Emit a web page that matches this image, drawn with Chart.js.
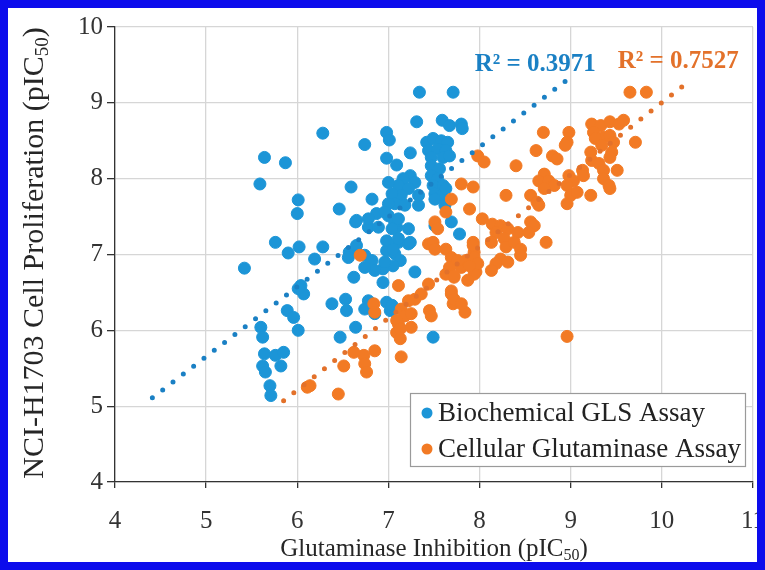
<!DOCTYPE html>
<html><head><meta charset="utf-8">
<script src="https://cdn.jsdelivr.net/npm/chart.js@4.4.0/dist/chart.umd.min.js"></script>
<style>html,body{margin:0;padding:0;background:#fff}#wrap{width:765px;height:570px;position:relative}</style>
</head><body><div id="wrap"><canvas id="c" width="765" height="570"></canvas></div>
<script>
// ---- data ----
const seriesNames = ['Biochemical GLS Assay', 'Cellular Glutaminase Assay'];
const xTicks = [4, 5, 6, 7, 8, 9, 10, 11];
const yTicks = [4, 5, 6, 7, 8, 9, 10];
const r2Labels = ['R² = 0.3971', 'R² = 0.7527'];

const bioX = [7.34,7.71,7.31,7.59,7.67,7.80,7.81,6.28,6.74,6.98,7.01,7.24,5.64,5.87,5.59,6.98,7.09,6.01,6.00,6.59,6.46,6.82,6.64,5.76,5.90,6.02,6.28,6.19,5.42,6.57,6.65,
7.42,7.49,7.58,7.65,7.44,7.54,7.63,7.47,7.60,7.67,
7.24,7.16,7.29,7.11,7.00,7.22,7.33,7.14,7.04,7.07,7.18,7.33,7.00,
7.47,7.56,7.47,7.54,7.49,7.60,7.51,7.58,7.63,
7.69,6.78,6.89,7.09,
6.56,6.74,6.82,6.98,7.07,7.13,7.05,6.94,6.85,6.74,6.62,6.94,7.29,7.22,7.11,6.98,
6.38,6.53,6.54,6.78,6.74,6.85,6.98,7.02,6.64,6.47,7.49,
7.78,7.51,6.04,6.07,6.01,5.89,5.96,6.01,5.60,5.62,5.64,5.76,5.85,5.62,5.82,5.65,5.70,5.71,
7.00,6.87,6.78,6.65,7.07,7.51,7.62,6.96,7.11,7.22,7.04,7.11,7.24,7.05,6.96,7.04];
const bioY = [9.14,9.14,8.75,8.77,8.70,8.72,8.66,8.60,8.45,8.61,8.51,8.34,8.28,8.21,7.93,8.27,8.18,7.72,7.54,7.89,7.60,7.73,7.43,7.16,7.02,7.10,7.10,6.94,6.82,7.03,7.12,
8.48,8.53,8.50,8.48,8.37,8.39,8.37,8.28,8.28,8.30,
8.04,8.00,7.95,7.91,7.95,7.87,7.78,7.78,7.80,7.67,7.65,7.65,7.67,
8.17,8.13,8.04,8.00,7.91,7.91,7.80,7.78,7.87,
7.43,7.36,7.36,7.36,
6.96,6.99,6.92,7.05,7.01,6.92,6.85,6.81,6.79,6.83,6.70,6.63,6.77,7.14,7.16,7.18,
6.35,6.41,6.26,6.39,6.28,6.22,6.37,6.26,6.04,5.91,5.91,
7.27,7.38,6.59,6.48,6.55,6.26,6.17,6.00,6.04,5.91,5.69,5.67,5.71,5.53,5.53,5.45,5.27,5.14,
7.51,7.54,7.47,7.45,7.43,7.73,7.65,7.56,7.47,7.34,7.34,7.21,7.16,7.07,6.90,6.33];

const cellX = [8.70,8.98,8.96,8.94,9.23,9.33,9.43,9.53,9.58,9.25,9.36,9.27,9.43,9.47,9.34,9.71,8.62,8.80,8.85,9.22,9.23,9.45,9.43,8.40,9.31,9.36,9.51,8.71,8.65,8.76,8.82,8.71,8.98,9.03,9.13,9.14,8.96,9.36,9.42,9.43,
7.93,8.29,8.56,8.63,8.65,9.00,8.96,9.07,9.22,7.89,8.03,8.14,8.23,8.31,8.42,8.18,8.56,8.60,8.54,7.93,7.94,8.13,8.27,8.29,8.38,8.45,8.45,8.73,8.23,8.31,8.18,7.93,7.96,8.13,
6.69,7.44,7.49,7.51,7.63,7.69,7.67,7.63,7.72,7.80,7.85,7.94,7.98,7.94,7.87,7.76,7.93,
7.11,7.36,7.29,7.22,7.14,7.18,7.25,7.11,7.09,7.13,7.45,7.47,7.69,7.71,7.84,6.84,6.85,7.14,6.85,6.73,6.62,6.51,6.74,7.09,7.13,7.25,6.76,6.45,6.14,6.11,7.69,7.72,7.80,7.44,
9.65,9.83,7.98,8.05,7.80,7.69,7.63,7.51,7.54,8.96,7.89,7.72];
const cellY = [8.61,8.61,8.48,8.44,8.72,8.70,8.75,8.72,8.77,8.61,8.55,8.53,8.57,8.48,8.44,8.48,8.37,8.30,8.26,8.35,8.24,8.35,8.28,8.17,8.20,8.11,8.11,8.06,7.97,7.97,7.91,7.87,8.04,7.97,8.11,8.04,7.91,8.00,7.91,7.87,
7.89,7.78,7.78,7.69,7.65,7.78,7.67,7.82,7.78,7.60,7.47,7.40,7.38,7.34,7.29,7.29,7.43,7.38,7.29,7.16,7.03,7.16,7.21,7.10,7.16,7.07,6.99,7.16,6.94,6.90,6.88,6.90,6.77,6.79,
6.99,7.14,7.16,7.07,7.07,6.96,6.83,6.74,6.70,6.83,6.92,6.96,6.88,6.74,6.66,6.92,7.12,
6.59,6.48,6.41,6.39,6.28,6.19,6.22,6.08,5.97,5.89,6.26,6.19,6.48,6.35,6.24,6.35,6.24,5.65,5.73,5.67,5.71,5.53,5.56,6.13,6.02,6.04,5.45,5.16,5.27,5.25,6.52,6.41,6.35,6.61,
9.14,9.14,8.30,8.22,7.93,7.73,7.56,7.43,7.34,5.92,6.85,6.72];

// linear trend line end points
const bioTrendX = [4.41, 8.99];
const bioTrendY = [5.11, 9.33];
const cellTrendX = [5.85, 10.27];
const cellTrendY = [5.07, 9.26];

// ---- styling ----
const FONT = "'Liberation Serif', 'Times New Roman', serif";
const BLUE = '#1c95d7', ORANGE = '#f27a24';
const BLUE_T = '#1a80c4', ORANGE_T = '#e3712a';
const toPts = (xs, ys) => xs.map((x, i) => ({x: x, y: ys[i]}));

function drawRich(ctx, parts, size, cx, cy) {
  const sub = Math.round(size * 0.62);
  let total = 0;
  parts.forEach(p => { ctx.font = (p.sub ? sub : size) + 'px ' + FONT; p.w = ctx.measureText(p.t).width; total += p.w; });
  let x = cx - total / 2;
  ctx.textAlign = 'left'; ctx.textBaseline = 'middle';
  parts.forEach(p => {
    ctx.font = (p.sub ? sub : size) + 'px ' + FONT;
    ctx.fillText(p.t, x, cy + (p.sub ? size * 0.28 : 0));
    x += p.w;
  });
}

const decor = {
  id: 'decor',
  beforeDraw(chart) {
    const c = chart.ctx; c.save(); c.fillStyle = '#fff'; c.fillRect(0, 0, chart.width, chart.height); c.restore();
  },
  afterDraw(chart) {
    const c = chart.ctx, xs = chart.scales.x, ys = chart.scales.y, a = chart.chartArea;
    c.save();
    // axis titles
    c.fillStyle = '#262626';
    drawRich(c, [{t: 'Glutaminase Inhibition (pIC'}, {t: '50', sub: true}, {t: ')'}], 25, (a.left + a.right) / 2, 549);
    c.save();
    c.translate(35, 253); c.rotate(-Math.PI / 2);
    drawRich(c, [{t: 'NCI-H1703 Cell Proliferation (pIC'}, {t: '50', sub: true}, {t: ')'}], 30, 0, 0);
    c.restore();
    // R² labels
    c.font = 'bold 25px ' + FONT; c.textAlign = 'center'; c.textBaseline = 'middle';
    c.fillStyle = BLUE_T; c.fillText(r2Labels[0], xs.getPixelForValue(8.61), ys.getPixelForValue(9.5));
    c.fillStyle = ORANGE_T; c.fillText(r2Labels[1], xs.getPixelForValue(10.18), ys.getPixelForValue(9.54));
    // legend box
    const lx = 410, ly = 393, lw = 335, lh = 73;
    c.fillStyle = '#fff'; c.fillRect(lx, ly, lw, lh);
    c.strokeStyle = '#9a9a9a'; c.lineWidth = 1.2; c.strokeRect(lx + 0.5, ly + 0.5, lw, lh);
    const cols = [BLUE, ORANGE];
    c.font = '27px ' + FONT; c.textAlign = 'left'; c.textBaseline = 'middle';
    seriesNames.forEach((n, i) => {
      const yy = ly + 20 + i * 36;
      c.fillStyle = cols[i]; c.beginPath(); c.arc(lx + 17, yy, 5.5, 0, Math.PI * 2); c.fill();
      c.fillStyle = '#222'; c.fillText(n, lx + 28, yy + 1);
    });
    // blue frame
    c.strokeStyle = '#0c0cec'; c.lineWidth = 8; c.strokeRect(4, 4, chart.width - 8, chart.height - 8);
    c.restore();
  }
};

const trendStyle = (col) => ({
  type: 'line', showLine: true, borderColor: col, borderWidth: 5, borderDash: [0, 13],
  borderCapStyle: 'round', pointRadius: 0, fill: false, order: 0
});

new Chart(document.getElementById('c'), {
  type: 'scatter',
  data: {
    datasets: [
      {label: seriesNames[0], data: toPts(bioX, bioY), backgroundColor: BLUE, borderColor: BLUE, pointRadius: 6, borderWidth: 1, order: 2},
      {label: seriesNames[1], data: toPts(cellX, cellY), backgroundColor: ORANGE, borderColor: ORANGE, pointRadius: 6, borderWidth: 1, order: 1},
      Object.assign({label: 'trend1', data: toPts(bioTrendX, bioTrendY)}, trendStyle(BLUE_T)),
      Object.assign({label: 'trend2', data: toPts(cellTrendX, cellTrendY)}, trendStyle(ORANGE_T))
    ]
  },
  options: {
    responsive: false, animation: false,
    layout: {padding: {top: 27, right: 12, left: 0, bottom: 0}},
    plugins: {legend: {display: false}, tooltip: {enabled: false}},
    scales: {
      x: {
        type: 'linear', min: xTicks[0], max: xTicks[xTicks.length - 1],
        afterBuildTicks: s => { s.ticks = xTicks.map(v => ({value: v})); },
        afterFit: s => { s.height = 88; s.paddingLeft = 0; s.paddingRight = 0; },
        ticks: {font: {family: FONT, size: 25}, color: '#333', padding: 18, maxRotation: 0},
        grid: {color: '#d6d6d6', lineWidth: 1.3, tickColor: '#333', tickLength: 6},
        border: {color: '#333', width: 1.3}
      },
      y: {
        type: 'linear', min: yTicks[0], max: yTicks[yTicks.length - 1],
        afterBuildTicks: s => { s.ticks = yTicks.map(v => ({value: v})); },
        afterFit: s => { s.width = 115; s.paddingTop = 0; s.paddingBottom = 0; },
        ticks: {font: {family: FONT, size: 25}, color: '#333', padding: 4},
        grid: {color: '#d6d6d6', lineWidth: 1.3, tickColor: '#333', tickLength: 8},
        border: {color: '#333', width: 1.3}
      }
    }
  },
  plugins: [decor]
});
</script></body></html>
